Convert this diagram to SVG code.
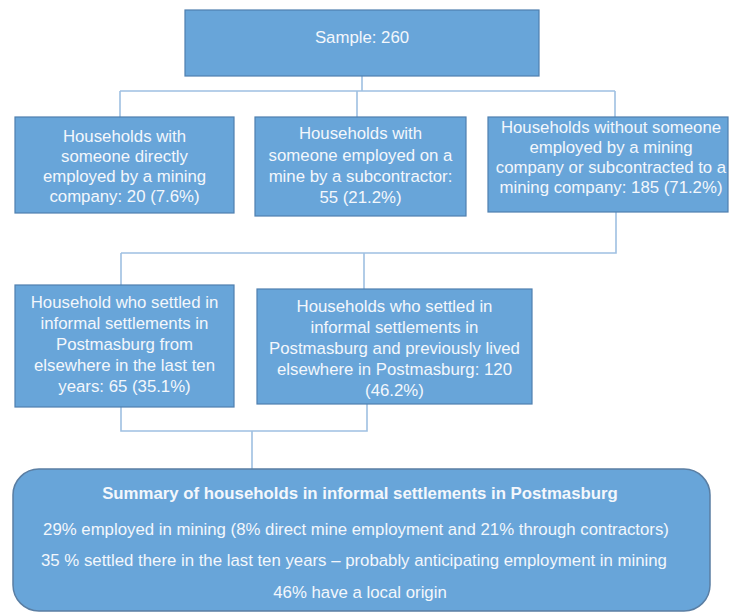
<svg xmlns="http://www.w3.org/2000/svg" width="730" height="614" viewBox="0 0 730 614">
<style>
.box{fill:#68a5d9;stroke:#4f7faf;stroke-width:1.2}
.sum{fill:#68a5d9;stroke:#5a7ea3;stroke-width:1.5}
.t{font-family:"Liberation Sans",Arial,sans-serif;font-size:16.8px;fill:#f3f7fc;text-anchor:middle}
.b{font-weight:bold}
.c{fill:none;stroke:#9fc0e2;stroke-width:1.6}
</style>
<rect width="730" height="614" fill="#ffffff"/>
<g id="connectors">
<path class="c" d="M362 76V91M120 91H615M120 91V117M357 91V117M615 91V117"/>
<path class="c" d="M616 212V253H121M121 253V285M364 253V289"/>
<path class="c" d="M121 407V431H367V404M252 431V469"/>
</g>
<g id="sample">
<rect class="box" x="185" y="10" width="354" height="66"/>
<text class="t" x="362" y="43">Sample: 260</text>
</g>
<g id="direct">
<rect class="box" x="15" y="117" width="219" height="96"/>
<text class="t" x="124.5" y="142">Households with</text>
<text class="t" x="124.5" y="162">someone directly</text>
<text class="t" x="124.5" y="182">employed by a mining</text>
<text class="t" x="124.5" y="202">company: 20 (7.6%)</text>
</g>
<g id="subcontractor">
<rect class="box" x="255" y="117" width="211" height="99"/>
<text class="t" x="360.5" y="139">Households with</text>
<text class="t" x="360.5" y="161">someone employed on a</text>
<text class="t" x="360.5" y="182">mine by a subcontractor:</text>
<text class="t" x="360.5" y="203">55 (21.2%)</text>
</g>
<g id="without">
<rect class="box" x="488" y="117" width="240" height="95"/>
<text class="t" x="611" y="133">Households without someone</text>
<text class="t" x="611" y="153">employed by a mining</text>
<text class="t" x="611" y="173">company or subcontracted to a</text>
<text class="t" x="611" y="193">mining company: 185 (71.2%)</text>
</g>
<g id="settled-recent">
<rect class="box" x="15" y="285" width="219" height="122"/>
<text class="t" x="124.5" y="308">Household who settled in</text>
<text class="t" x="124.5" y="329">informal settlements in</text>
<text class="t" x="124.5" y="350">Postmasburg from</text>
<text class="t" x="124.5" y="371">elsewhere in the last ten</text>
<text class="t" x="124.5" y="392">years: 65 (35.1%)</text>
</g>
<g id="settled-local">
<rect class="box" x="257" y="289" width="275" height="115"/>
<text class="t" x="394.5" y="312">Households who settled in</text>
<text class="t" x="394.5" y="333">informal settlements in</text>
<text class="t" x="394.5" y="354">Postmasburg and previously lived</text>
<text class="t" x="394.5" y="375">elsewhere in Postmasburg: 120</text>
<text class="t" x="394.5" y="396">(46.2%)</text>
</g>
<g id="summary">
<rect class="sum" x="13" y="469" width="697" height="142" rx="26" ry="26"/>
<text class="t b" x="360" y="499">Summary of households in informal settlements in Postmasburg</text>
<text class="t" x="356" y="535">29% employed in mining (8% direct mine employment and 21% through contractors)</text>
<text class="t" x="354" y="566">35 % settled there in the last ten years – probably anticipating employment in mining</text>
<text class="t" x="360" y="598">46% have a local origin</text>
</g>
</svg>
